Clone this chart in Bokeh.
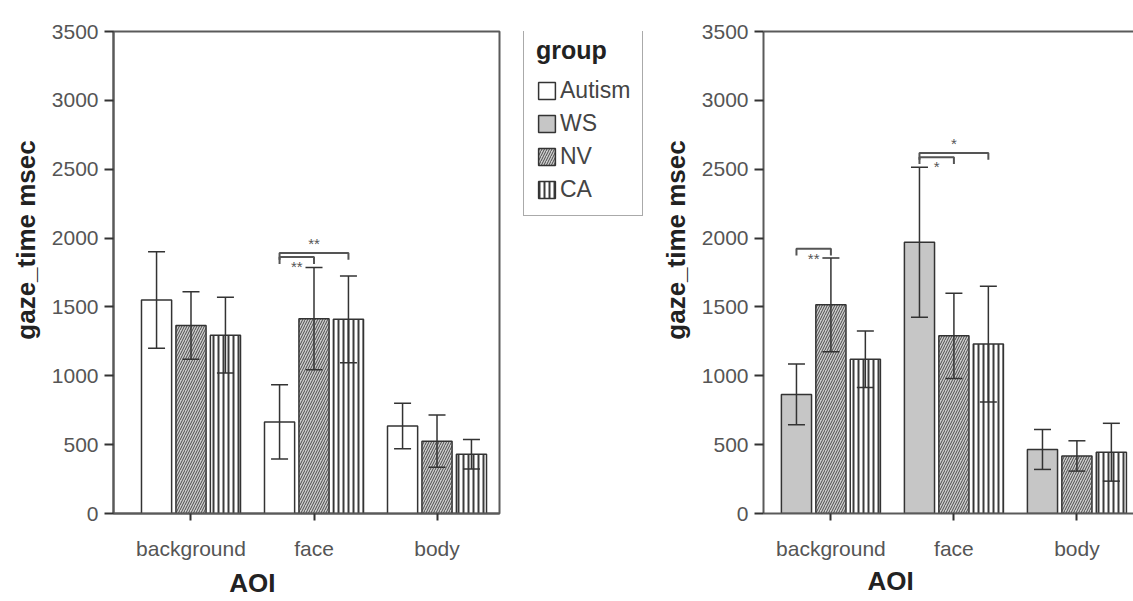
from bokeh.plotting import figure
from bokeh.models import (Range1d, FixedTicker, LinearAxis, Legend, LegendItem,
                          ColumnDataSource, Whisker, TeeHead)
from bokeh.layouts import row
from bokeh.embed import file_html
from bokeh.resources import INLINE
from bokeh.core.properties import value

# ---------------- data ----------------
aoi_labels = ["background", "face", "body"]
legend_groups = ["Autism", "WS", "NV", "CA"]
y_ticks = [0, 500, 1000, 1500, 2000, 2500, 3000, 3500]

left_groups = ["Autism", "NV", "CA"]
left_autism_mean = [1550, 665, 635]
left_autism_err = [350, 270, 165]
left_nv_mean = [1365, 1415, 525]
left_nv_err = [245, 372, 190]
left_ca_mean = [1295, 1410, 430]
left_ca_err = [275, 315, 107]

right_groups = ["WS", "NV", "CA"]
right_ws_mean = [865, 1970, 465]
right_ws_err = [220, 545, 145]
right_nv_mean = [1515, 1290, 418]
right_nv_err = [340, 310, 110]
right_ca_mean = [1120, 1230, 445]
right_ca_err = [205, 420, 210]

# significance brackets: (aoi index, from slot, to slot, height, stars, side of label)
left_brackets = [(1, 0, 2, 1892, "**", "above"), (1, 0, 1, 1862, "**", "below")]
right_brackets = [(0, 0, 1, 1923, "**", "below"),
                  (1, 0, 2, 2618, "*", "above"),
                  (1, 0, 1, 2587, "*", "below")]

# ---------------- styles ----------------
FONT = "Liberation Sans"
NB = "\u00a0"
SLOT_OFFSETS = [-0.28, 0.0, 0.28]
BAR_W = 0.245
STYLE = {
    "Autism": dict(fill_color="white"),
    "WS": dict(fill_color="#c6c6c6"),
    "NV": dict(fill_color="#cdcdcd", hatch_pattern="/", hatch_color="#4a4a4a",
               hatch_scale=5, hatch_weight=1),
    "CA": dict(fill_color="white", hatch_pattern="|", hatch_color="#3c3c3c",
               hatch_scale=5, hatch_weight=2),
}


def style_axes(p, tick_standoff, label_standoff, ylab_standoff, aoi_pad):
    p.xgrid.visible = False
    p.ygrid.visible = False
    for ax in (p.xaxis[0], p.yaxis[0]):
        ax.axis_line_color = "#5a5a5a"
        ax.axis_line_width = 2
        ax.major_tick_line_color = "#333333"
        ax.major_tick_line_width = 2
        ax.major_tick_in = 0
        ax.minor_tick_line_color = None
        ax.major_label_text_font = FONT
        ax.major_label_text_font_size = "21px"
        ax.major_label_text_color = "#555555"
        ax.axis_label_text_font = FONT
        ax.axis_label_text_font_size = "26px"
        ax.axis_label_text_font_style = "bold"
        ax.axis_label_text_color = "#222222"
    p.yaxis[0].ticker = FixedTicker(ticks=y_ticks)
    p.yaxis[0].major_tick_out = 9
    p.yaxis[0].major_label_standoff = 6
    p.yaxis[0].axis_label = NB * 9 + "gaze_time msec"
    p.yaxis[0].axis_label_standoff = ylab_standoff
    p.xaxis[0].ticker = FixedTicker(ticks=[0, 1, 2])
    p.xaxis[0].major_label_overrides = {i: lab for i, lab in enumerate(aoi_labels)}
    p.xaxis[0].major_tick_out = 7
    p.xaxis[0].major_label_standoff = tick_standoff
    p.xaxis[0].axis_label = "AOI" + NB * aoi_pad
    p.xaxis[0].axis_label_standoff = label_standoff


def draw_bars(p, groups, means, errs):
    rends = {}
    for slot, g in enumerate(groups):
        xs = [i + SLOT_OFFSETS[slot] for i in range(len(aoi_labels))]
        src = ColumnDataSource(dict(
            x=xs, top=means[slot],
            upper=[m + e for m, e in zip(means[slot], errs[slot])],
            lower=[m - e for m, e in zip(means[slot], errs[slot])]))
        r = p.vbar(x="x", top="top", bottom=0, width=BAR_W, source=src,
                   line_color="#333333", line_width=1.5, **STYLE[g])
        rends[g] = r
        w = Whisker(base="x", upper="upper", lower="lower", source=src,
                    dimension="height", line_color="#333333", line_width=1.5,
                    upper_head=TeeHead(size=17, line_color="#333333", line_width=1.5),
                    lower_head=TeeHead(size=17, line_color="#333333", line_width=1.5),
                    level="annotation")
        p.add_layout(w)
    return rends


def draw_brackets(p, brackets):
    drop = 50
    xs, ys = [], []
    tx, ty, tt, tb = [], [], [], []
    for cat, a, b, h, stars, side in brackets:
        x0 = cat + SLOT_OFFSETS[a]
        x1 = cat + SLOT_OFFSETS[b]
        xs.append([x0, x0, x1, x1])
        ys.append([h - drop, h, h, h - drop])
        tx.append((x0 + x1) / 2)
        ty.append(h)
        tt.append(stars)
        tb.append("bottom" if side == "above" else "top")
    p.multi_line(xs=xs, ys=ys, line_color="#555555", line_width=2)
    for base in ("bottom", "top"):
        sub = ColumnDataSource(dict(
            x=[x for x, bb in zip(tx, tb) if bb == base],
            y=[y for y, bb in zip(ty, tb) if bb == base],
            t=[t for t, bb in zip(tt, tb) if bb == base]))
        p.text(x="x", y="y", text="t", source=sub, text_align="center",
               text_baseline=base, y_offset=(-1 if base == "bottom" else 1),
               text_font=value(FONT), text_font_size="15px", text_color="#555555")


# ---------------- left panel ----------------
p1 = figure(width=505, height=601, x_range=Range1d(-0.63, 2.508), y_range=Range1d(0, 3500),
            output_backend="svg", toolbar_location=None,
            min_border_left=113, min_border_right=6, min_border_top=22, min_border_bottom=88)
p1.outline_line_color = "#5a5a5a"
p1.outline_line_width = 2
style_axes(p1, 16, 5, 8, 15)
draw_bars(p1, left_groups,
          [left_autism_mean, left_nv_mean, left_ca_mean],
          [left_autism_err, left_nv_err, left_ca_err])
draw_brackets(p1, left_brackets)

# ---------------- legend panel ----------------
pl = figure(width=150, height=601, x_range=Range1d(0, 1), y_range=Range1d(0, 1),
            output_backend="svg", toolbar_location=None,
            x_axis_location=None, y_axis_location=None, min_border=0)
pl.outline_line_color = None
pl.xgrid.visible = False
pl.ygrid.visible = False
legend_means = {"Autism": left_autism_mean, "WS": right_ws_mean,
                "NV": right_nv_mean, "CA": right_ca_mean}
legend_rends = {}
for g in legend_groups:
    src = ColumnDataSource(dict(x=[0, 1, 2], top=legend_means[g]))
    r = pl.vbar(x="x", top="top", bottom=0, width=BAR_W, source=src,
                line_color="#333333", line_width=1.5, **STYLE[g])
    r.visible = False
    legend_rends[g] = r
legend = Legend(items=[LegendItem(label=g, renderers=[legend_rends[g]]) for g in legend_groups],
                location=(18, 297), title="group",
                title_text_font=FONT, title_text_font_size="25px", title_text_font_style="bold",
                title_text_color="#222222", title_standoff=12,
                label_text_font=FONT, label_text_font_size="23px", label_text_color="#444444",
                glyph_width=21, glyph_height=21, label_standoff=3, spacing=6,
                padding=12, margin=0, border_line_color="#555555", border_line_width=1.5,
                background_fill_color="white", background_fill_alpha=1,
                inactive_fill_alpha=0, click_policy="none")
pl.add_layout(legend)

# ---------------- right panel ----------------
p2 = figure(width=478, height=601, x_range=Range1d(-0.548, 2.460), y_range=Range1d(0, 3500),
            output_backend="svg", toolbar_location=None,
            min_border_left=108, min_border_right=0, min_border_top=31, min_border_bottom=79)
p2.outline_line_color = None
style_axes(p2, 16, 3, 8, 16)
top_axis = LinearAxis(ticker=FixedTicker(ticks=[]), axis_line_color="#5a5a5a", axis_line_width=2,
                      major_tick_line_color=None, minor_tick_line_color=None,
                      major_label_text_font_size="0px")
p2.add_layout(top_axis, "above")
draw_bars(p2, right_groups,
          [right_ws_mean, right_nv_mean, right_ca_mean],
          [right_ws_err, right_nv_err, right_ca_err])
draw_brackets(p2, right_brackets)

layout = row(p1, pl, p2)
open("out.html", "w").write(file_html(layout, INLINE))
